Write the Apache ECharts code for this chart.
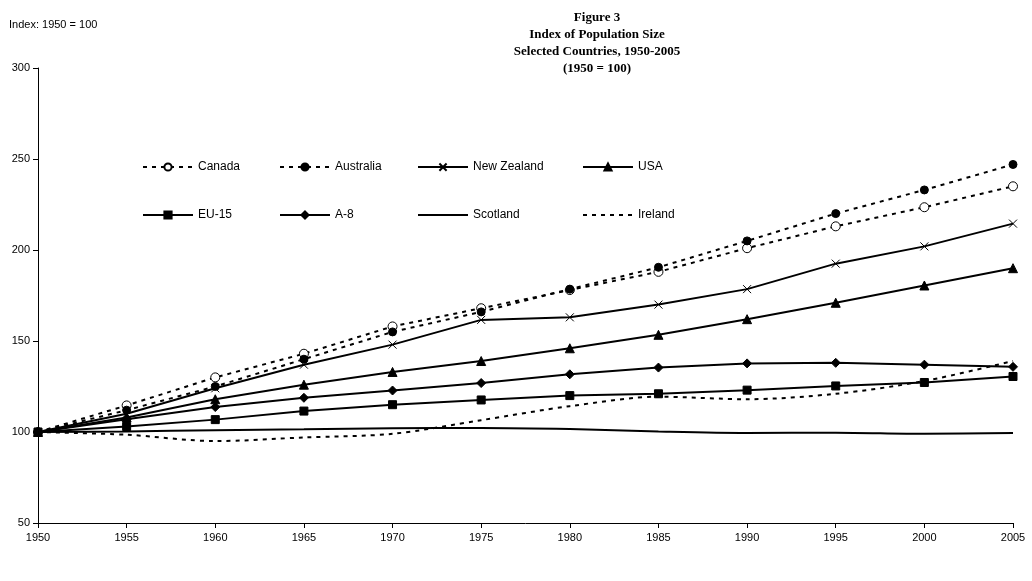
<!DOCTYPE html>
<html>
<head>
<meta charset="utf-8">
<script src="https://cdn.jsdelivr.net/npm/echarts@6/dist/echarts.min.js"></script>
<style>html,body{margin:0;padding:0;background:#fff}#chart{width:1032px;height:581px}</style>
</head>
<body>
<div id="chart"></div>
<script>
var years = ['1950','1955','1960','1965','1970','1975','1980','1985','1990','1995','2000','2005'];
var canada     = [100,114.6,130,143,158,168,178,188,201,213,223.5,235];
var australia  = [100,112,125,140,155,166,178.5,190.5,205,220,233,247];
var newZealand = [100,110,124,137,148,161.6,163,170,178.5,192.5,202,214.5];
var usa        = [100,108,118,126,133,139,146,153.4,162,171,180.5,190];
var eu15       = [100,103,106.8,111.5,115,117.6,120,121,123,125.3,127.2,130.5];
var a8         = [100,107,113.7,118.8,122.8,126.9,131.7,135.4,137.7,138,137,135.8];
var scotland   = [100,100.3,101,101.5,102,102.2,101.6,100.3,99.5,99.6,99,99.5];
var ireland    = [100,98.5,95,97,99,106.5,114.2,119.4,118,121,128,139];

var crossPath = 'path://M0,0L10,10M10,0L0,10';

function mk(name, data, symbol, size, dashed, fill, smooth) {
    return {
        name: name,
        type: 'line',
        data: data,
        symbol: symbol,
        symbolSize: size,
        showSymbol: symbol !== 'none',
        smooth: smooth || false,
        lineStyle: {color: '#000', width: 2, type: dashed ? [4, 5] : 'solid'},
        itemStyle: {color: fill, borderColor: '#000', borderWidth: 1},
        emphasis: {disabled: true},
        z: 3
    };
}

var series = [
    mk('Canada', canada, 'circle', 9, true, '#fff'),
    mk('Australia', australia, 'circle', 8, true, '#000'),
    mk('New Zealand', newZealand, crossPath, 8, false, 'none'),
    mk('USA', usa, 'triangle', 9, false, '#000'),
    mk('EU-15', eu15, 'rect', 8, false, '#000'),
    mk('A-8', a8, 'diamond', 9, false, '#000'),
    mk('Scotland', scotland, 'none', 0, false, '#000', 0.3),
    mk('Ireland', ireland, 'none', 0, true, '#000', 0.3)
];

var legendPos = [[137,156],[274,156],[412,156],[577,156],[137,204],[274,204],[412,204],[577,204]];
var legends = series.map(function (s, i) {
    var l = {
        data: [s.name],
        left: legendPos[i][0],
        top: legendPos[i][1],
        itemWidth: 50,
        itemHeight: 9,
        itemGap: 4,
        selectedMode: false,
        textStyle: {fontFamily: 'Liberation Sans', fontSize: 12, color: '#000'}
    };
    if (s.symbol === 'none') l.itemStyle = {color: 'rgba(0,0,0,0)', borderWidth: 0};
    return l;
});

var chart = echarts.init(document.getElementById('chart'));
chart.setOption({
    animation: false,
    backgroundColor: '#fff',
    title: [{
        text: 'Figure 3\nIndex of Population Size\nSelected Countries, 1950-2005\n(1950 = 100)',
        left: 592, top: 4, textAlign: 'center',
        textStyle: {fontFamily: 'Liberation Serif', fontSize: 13, fontWeight: 'bold', color: '#000', lineHeight: 17}
    }, {
        text: 'Index: 1950 = 100', left: 4, top: 14,
        textStyle: {fontFamily: 'Liberation Sans', fontSize: 11, fontWeight: 'normal', color: '#000'}
    }],
    legend: legends,
    grid: {left: 38, right: 19, top: 68, bottom: 58},
    xAxis: {
        type: 'category', data: years, boundaryGap: false,
        axisLine: {lineStyle: {color: '#000'}},
        axisTick: {lineStyle: {color: '#000'}, length: 5, alignWithLabel: true},
        axisLabel: {color: '#000', fontFamily: 'Liberation Sans', fontSize: 11, margin: 9}
    },
    yAxis: {
        type: 'value', min: 50, max: 300, interval: 50,
        axisLine: {show: true, lineStyle: {color: '#000'}},
        axisTick: {show: true, lineStyle: {color: '#000'}, length: 5},
        splitLine: {show: false},
        axisLabel: {color: '#000', fontFamily: 'Liberation Sans', fontSize: 11, margin: 8}
    },
    series: series
});
</script>
</body>
</html>
